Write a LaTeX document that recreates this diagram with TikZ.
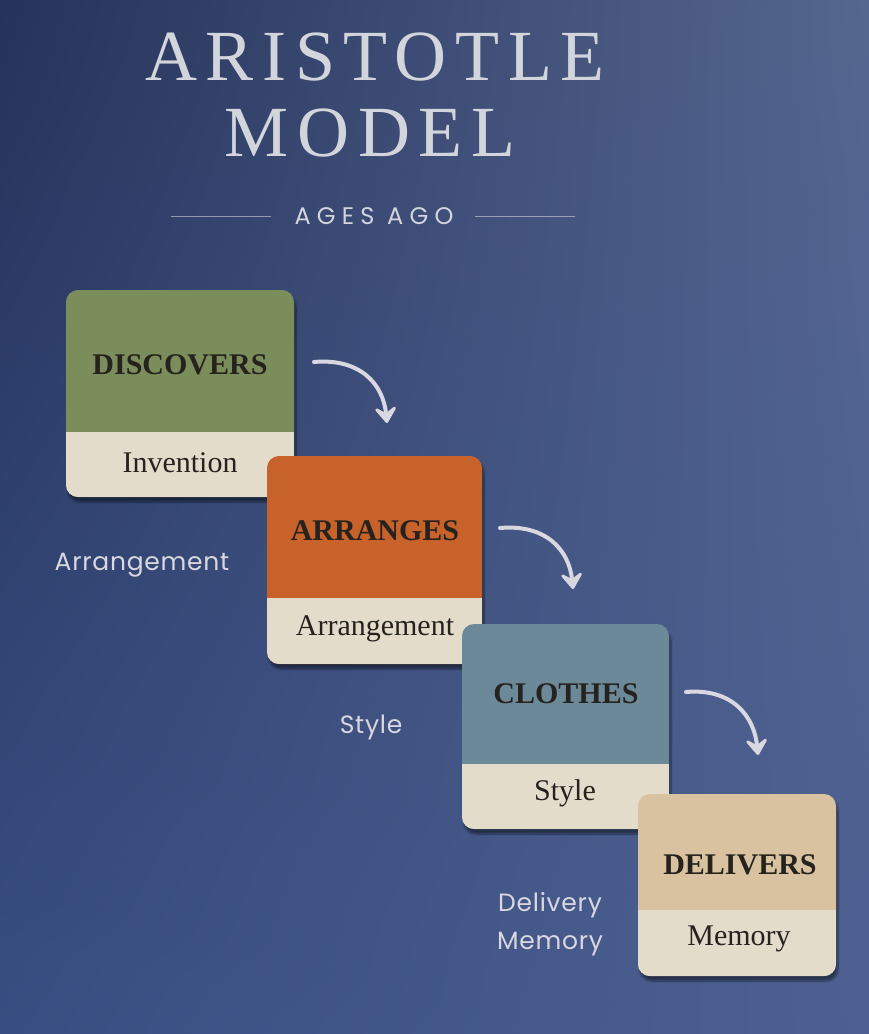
\documentclass[tikz,border=0pt]{standalone}
\usepackage{fontspec}
\setmainfont{Liberation Serif}
\newfontfamily\titlefont{Liberation Serif}[LetterSpace=12]
\newfontfamily\sidefont{Poppins}[LetterSpace=3]
\newfontfamily\subfont{Poppins}[LetterSpace=26]
\usetikzlibrary{positioning,arrows.meta,shadows.blur,shadings}

\definecolor{bgtl}{HTML}{26335A}
\definecolor{bgtr}{HTML}{55668F}
\definecolor{bgbl}{HTML}{384E82}
\definecolor{bgbr}{HTML}{4D6092}
\definecolor{silver}{HTML}{D2D5DC}
\definecolor{paper}{HTML}{E3DCCB}
\definecolor{sage}{HTML}{7A8D5B}
\definecolor{rust}{HTML}{C8622B}
\definecolor{slate}{HTML}{6C8999}
\definecolor{sand}{HTML}{D8C29F}
\definecolor{ink}{HTML}{26221E}
\definecolor{mist}{HTML}{D9D7E0}

\begin{document}
\begin{tikzpicture}[
    x=1pt, y=-1pt,
    tile/.style 2 args={rectangle, rounded corners=12pt, fill=#1, draw=none,
        blur shadow={shadow xshift=2pt, shadow yshift=-5pt, shadow blur steps=10, shadow opacity=45},
        path picture={\fill[paper, sharp corners] (path picture bounding box.south west) rectangle ([yshift=#2]path picture bounding box.south east);}},
    verb/.style={font=\fontsize{30}{30}\selectfont\bfseries, text=ink},
    noun/.style={font=\fontsize{30}{30}\selectfont, text=ink},
    side/.style={font=\sidefont\fontsize{25}{38}\selectfont, text=mist, align=center},
    arrow/.style={-{Stealth[length=20pt, width=28pt, inset=9pt, round]}, line width=4pt, mist, line cap=round}
]
    % Background
    \useasboundingbox (0,0) rectangle (869,1034);
    \shade[upper left=bgtl, upper right=bgtr, lower left=bgbl, lower right=bgbr] (0,0) rectangle (869,1034);

    % Title
    \node[font=\titlefont\fontsize{72}{72}\selectfont, text=silver] (title) at (375,57.5) {ARISTOTLE};
    \node[font=\titlefont\fontsize{72}{72}\selectfont, text=silver] (model) at (370,133) {MODEL};
    \node[font=\subfont\fontsize{24}{24}\selectfont, text=silver] (ages) at (374,216.5) {AGES AGO};
    \draw[silver, line width=1pt, opacity=0.6] ([xshift=-20pt]ages.west) -- ++(-100,0);
    \draw[silver, line width=1pt, opacity=0.6] ([xshift=18pt]ages.east) -- ++(100,0);

    % Tiles
    \node[tile={sage}{65pt}, minimum width=228pt, minimum height=207pt] (discovers) at (180,393.5) {};
    \node[verb] (discoversverb) at (180,365) {DISCOVERS};
    \node[noun] (invention) at (180,463) {Invention};

    \node[tile={rust}{66pt}, minimum width=215pt, minimum height=208pt] (arranges) at (374.5,560) {};
    \node[verb] (arrangesverb) at (375,531) {ARRANGES};
    \node[noun] (arrangement) at (375,629) {Arrangement};

    \node[tile={slate}{65pt}, minimum width=207pt, minimum height=205pt] (clothes) at (565.5,726.5) {};
    \node[verb] (clothesverb) at (566,694) {CLOTHES};
    \node[noun] (style) at (565,793) {Style};

    \node[tile={sand}{66pt}, minimum width=198pt, minimum height=182pt] (delivers) at (737,885) {};
    \node[verb] (deliversverb) at (740,865) {DELIVERS};
    \node[noun] (memory) at (739,939) {Memory};

    % Side labels
    \node[side] (sidearrangement) at (142,565) {Arrangement};
    \node[side] (sidestyle) at (371,727) {Style};
    \node[side] (sidedelivery) at (550,924) {Delivery\\Memory};

    % Arrows
    \coordinate (arrowastart) at (314,362);
    \coordinate (arrowaend) at (387,423);
    \coordinate (arrowbstart) at (500,528);
    \coordinate (arrowbend) at (573,589);
    \coordinate (arrowcstart) at (686,692);
    \coordinate (arrowcend) at (758,755);
    \draw[arrow] (arrowastart) .. controls +(45,-4) and +(-4,-40) .. (arrowaend);
    \draw[arrow] (arrowbstart) .. controls +(45,-4) and +(-4,-40) .. (arrowbend);
    \draw[arrow] (arrowcstart) .. controls +(45,-4) and +(-4,-40) .. (arrowcend);
\end{tikzpicture}
\end{document}
